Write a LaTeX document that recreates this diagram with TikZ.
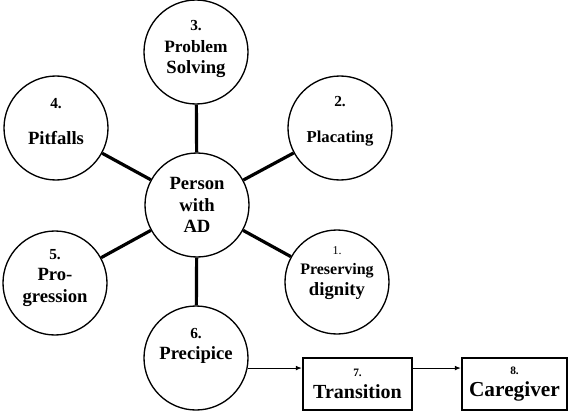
\documentclass[tikz,border=0pt]{standalone}
\usepackage{fontspec}
\setmainfont{Liberation Serif}
\usepackage{tikz}
\usetikzlibrary{arrows.meta, calc, positioning}
\newcommand{\numtxt}[1]{{\fontsize{11.5}{13}\selectfont #1}}

\begin{document}
\begin{tikzpicture}[x=0.75pt, y=-0.75pt,
        ring/.style={draw, circle, line width=1pt, minimum size=78pt, inner sep=0pt},
        lbl/.style={align=center, inner sep=0pt, font=\fontsize{14}{16}\selectfont\bfseries},
        stage/.style={draw, line width=1.3pt, inner sep=0pt, minimum height=39pt,
                      align=center, font=\fontsize{15}{17}\selectfont\bfseries},
        spoke/.style={line width=2.4pt},
        arr/.style={-{Latex[length=4.5pt, width=3.5pt]}, line width=0.8pt}
      ]
      \useasboundingbox (0,0) rectangle (568,411);

      % circles
      \node[ring] (hub) at (197,205) {};
      \node[ring] (c1)  at (337,282) {};
      \node[ring] (c2)  at (340,128) {};
      \node[ring] (c3)  at (196,52)  {};
      \node[ring] (c4)  at (56,128)  {};
      \node[ring] (c5)  at (55,283)  {};
      \node[ring] (c6)  at (196,358) {};

      % texts in the circles
      \node[lbl] (thub) at (197,205) {Person\\with\\AD};
      \node[lbl] (t1) at (337,273) {{\fontsize{9}{10}\selectfont\mdseries 1.}\\[-1pt]
        {\fontsize{12}{14}\selectfont Preserving}\\dignity};
      \node[lbl] (t2) at (340,121) {\numtxt{2.}\\[11pt]{\fontsize{12.5}{14}\selectfont Placating}};
      \node[lbl] (t3) at (196,49)  {\numtxt{3.}\\[0pt]{\fontsize{13}{15}\selectfont Problem}\\Solving};
      \node[lbl] (t4) at (56,122)  {\numtxt{4.}\\[11pt]Pitfalls};
      \node[lbl] (t5) at (55,278)  {\numtxt{5.}\\Pro-\\gression};
      \node[lbl] (t6) at (196,346) {\numtxt{6.}\\Precipice};

      % spokes
      \foreach \c in {c1,c2,c3,c4,c5,c6}
        \draw[spoke] (hub) -- (\c);

      % boxes
      \node[stage, minimum width=82pt] (trans) at (357.5,384)
        {{\fontsize{8.5}{10}\selectfont 7.}\\Transition};
      \node[stage, minimum width=79pt] (care) at (514.5,384)
        {{\fontsize{8.5}{10}\selectfont 8.}\\{\fontsize{16}{18}\selectfont Caregiver}};

      \draw[arr] (c6.-11) -- (c6.-11 -| trans.west);
      \draw[arr] (c6.-11 -| trans.east) -- (c6.-11 -| care.west);
    \end{tikzpicture}
\end{document}
